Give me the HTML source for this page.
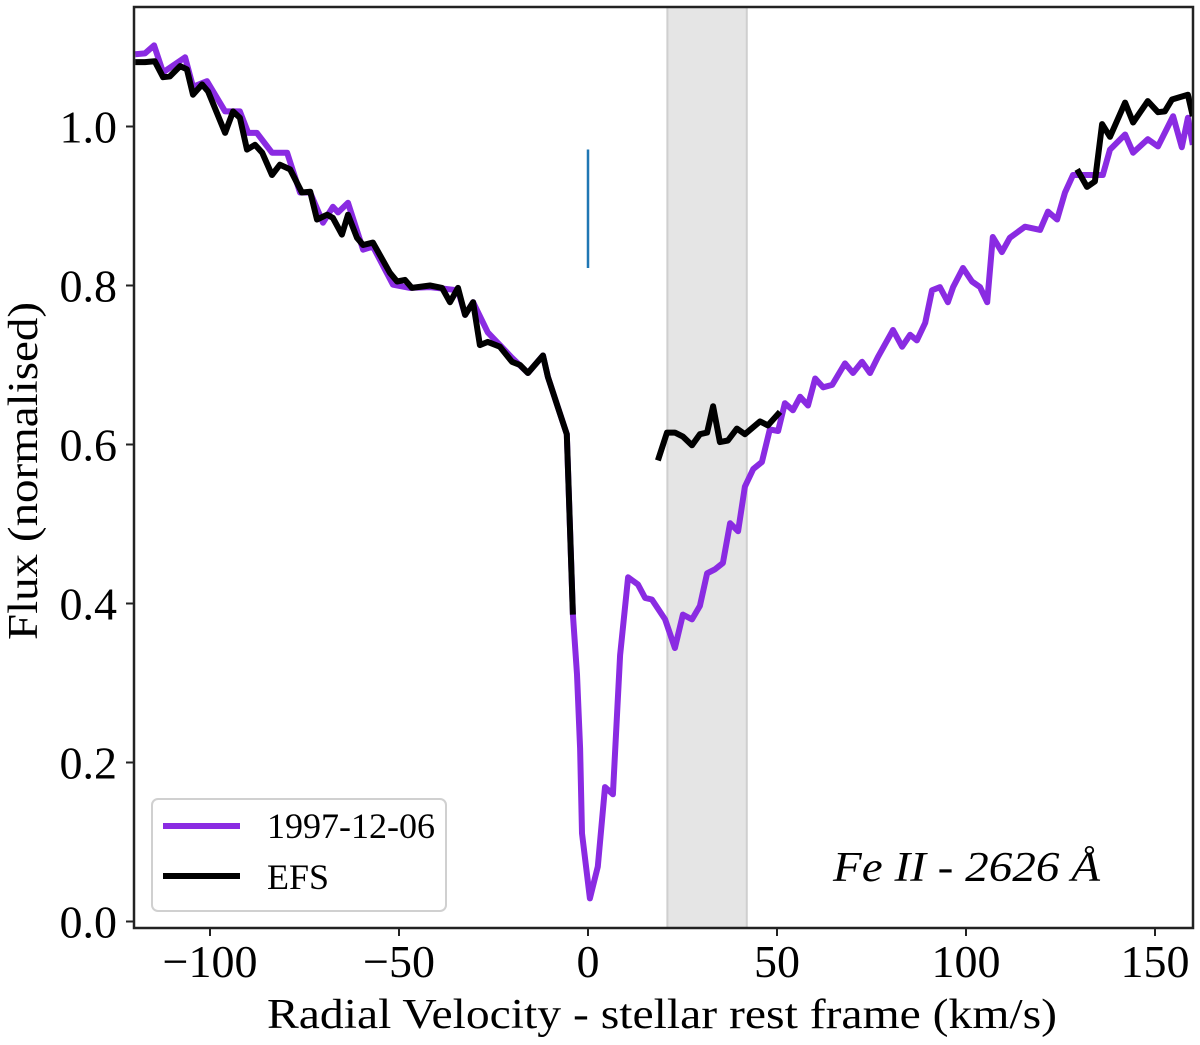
<!DOCTYPE html>
<html><head><meta charset="utf-8">
<style>
html,body{margin:0;padding:0;background:#fff;}
svg{display:block;font-family:"Liberation Serif","DejaVu Serif",serif;}
</style></head>
<body>
<svg id="chart" width="1200" height="1045" viewBox="0 0 1200 1045" xmlns="http://www.w3.org/2000/svg">
<defs><clipPath id="plotclip"><rect x="134" y="7" width="1059" height="921"/></clipPath></defs>
<g id="plot" clip-path="url(#plotclip)"></g>
<g id="axes"></g>
</svg>
<script>
// ---- data ----
const purpleX = [-119.8,-117.2,-114.8,-112.4,-106.6,-104.5,-100.8,-96.0,-92.1,-89.9,-87.6,-83.6,-79.6,-76.2,-73.5,-70.1,-67.5,-66.1,-63.5,-59.5,-56.9,-51.6,-47.1,-41.8,-34.4,-32.5,-30.4,-26.5,-23.3,-20.1,-15.9,-11.9,-10.6,-7.9,-5.6,-4.8,-4.0,-2.9,-2.1,-1.6,0.5,2.6,4.5,6.6,8.5,10.6,13.2,15.1,16.9,20.4,23.0,25.1,27.5,29.6,31.5,33.6,35.7,37.6,39.7,41.5,43.7,46.0,48.1,50.3,52.1,54.2,56.1,58.2,60.1,62.2,64.6,68.0,70.1,72.5,74.6,76.7,80.7,83.1,85.2,87.0,89.2,91.0,93.1,95.2,96.6,99.2,101.6,103.7,105.6,107.1,109.5,111.6,115.6,119.6,121.7,124.1,126.2,128.3,136.2,138.1,142.1,144.2,148.1,150.8,154.8,157.1,158.7,160.0];
const purpleY = [1.091,1.092,1.102,1.068,1.087,1.050,1.057,1.019,1.019,0.992,0.992,0.967,0.967,0.917,0.917,0.879,0.899,0.892,0.904,0.845,0.849,0.801,0.797,0.798,0.794,0.763,0.779,0.741,0.725,0.709,0.690,0.712,0.685,0.646,0.613,0.498,0.386,0.311,0.218,0.111,0.029,0.069,0.169,0.160,0.335,0.433,0.424,0.407,0.405,0.380,0.344,0.386,0.380,0.397,0.438,0.443,0.451,0.501,0.491,0.547,0.569,0.578,0.619,0.617,0.652,0.643,0.660,0.649,0.683,0.672,0.675,0.702,0.690,0.704,0.690,0.710,0.744,0.723,0.738,0.731,0.753,0.794,0.798,0.779,0.798,0.822,0.805,0.798,0.779,0.861,0.842,0.860,0.874,0.870,0.893,0.883,0.917,0.939,0.939,0.971,0.990,0.967,0.984,0.975,1.013,0.974,1.011,0.977];
const efsLeftX = [-119.8,-117.2,-114.6,-112.4,-110.6,-107.9,-106.1,-104.5,-102.1,-100.5,-96.0,-93.9,-92.1,-90.2,-88.1,-86.2,-83.6,-81.5,-78.8,-75.7,-73.5,-71.7,-69.0,-67.5,-65.1,-63.5,-61.1,-59.5,-56.9,-52.4,-50.5,-48.4,-46.6,-41.8,-38.6,-36.5,-34.4,-32.5,-30.4,-28.6,-26.5,-23.3,-20.1,-18.0,-15.9,-11.9,-10.6,-7.9,-5.6,-4.8,-4.0];
const efsLeftY = [1.081,1.081,1.082,1.062,1.063,1.076,1.072,1.040,1.053,1.044,0.992,1.019,1.011,0.971,0.977,0.967,0.939,0.952,0.946,0.917,0.918,0.883,0.889,0.885,0.864,0.889,0.860,0.851,0.854,0.816,0.805,0.807,0.797,0.800,0.797,0.779,0.797,0.763,0.779,0.725,0.729,0.723,0.704,0.700,0.690,0.712,0.685,0.646,0.613,0.498,0.386];
const efsMidX = [18.5,20.9,23.0,25.1,27.5,29.6,31.5,33.1,34.9,37.0,39.4,41.5,45.5,47.6,50.8];
const efsMidY = [0.580,0.615,0.615,0.610,0.599,0.613,0.615,0.648,0.603,0.605,0.620,0.613,0.629,0.624,0.641];
const efsRightX = [129.4,132.0,134.1,136.0,138.1,142.1,144.2,148.1,150.8,152.6,154.5,156.6,158.7,160.0];
const efsRightY = [0.946,0.924,0.931,1.003,0.987,1.030,1.005,1.032,1.018,1.019,1.034,1.037,1.040,1.013];
const bandRange = [21, 42];
const markerX = [0];
const markerY = [0.822, 0.971];
const xTicks = [-100, -50, 0, 50, 100, 150];
const xTickLabels = ["\u2212100", "\u221250", "0", "50", "100", "150"];
const yTicks = [0.0, 0.2, 0.4, 0.6, 0.8, 1.0];
const yTickLabels = ["0.0", "0.2", "0.4", "0.6", "0.8", "1.0"];

// ---- scales ----
const X0 = 588, KX = 3.78, Y0 = 921.5, KY = 795;
function sx(v){ return X0 + v*KX; }
function sy(v){ return Y0 - v*KY; }
const NS = "http://www.w3.org/2000/svg";
const plot = document.getElementById('plot');
const axes = document.getElementById('axes');
function mk(tag, attrs, parent){ const e=document.createElementNS(NS,tag); for(const k in attrs) e.setAttribute(k,attrs[k]); parent.appendChild(e); return e; }

// band
const band = mk('rect', {x:sx(bandRange[0]), y:0, width:sx(bandRange[1])-sx(bandRange[0]), height:1045, fill:'#e5e5e5', stroke:'#cfcfcf', 'stroke-width':2}, plot);



// marker
const mark = mk('line', {x1:sx(markerX[0]), x2:sx(markerX[0]), y1:sy(markerY[0]), y2:sy(markerY[1]), stroke:'#1f77b4', 'stroke-width':2.5}, plot);



function line(xs, ys, color){
  let d=''; for(let i=0;i<xs.length;i++) d += (i?'L':'M') + sx(xs[i]).toFixed(1) + ' ' + sy(ys[i]).toFixed(1);
  return mk('path', {d:d, fill:'none', stroke:color, 'stroke-width':6, 'stroke-linejoin':'round', 'stroke-linecap':'butt'}, plot);
}
const p1 = line(purpleX, purpleY, '#8a2be2');


const b1 = line(efsLeftX, efsLeftY, '#000');


const b2 = line(efsMidX, efsMidY, '#000');


const b3 = line(efsRightX, efsRightY, '#000');



// frame
const frame = mk('rect', {x:134, y:7, width:1059, height:921, fill:'none', stroke:'#222', 'stroke-width':2.5}, axes);



xTicks.forEach((t,i)=>{
  const tk = mk('line', {x1:sx(t), x2:sx(t), y1:928, y2:936, stroke:'#222', 'stroke-width':2}, axes);
  
  
  const tx = mk('text', {x:sx(t), y:977, 'font-size':46, 'text-anchor':'middle', fill:'#000'}, axes);
  tx.textContent = xTickLabels[i];
  
  
});
yTicks.forEach((t,i)=>{
  const tk = mk('line', {x1:126, x2:134, y1:sy(t), y2:sy(t), stroke:'#222', 'stroke-width':2}, axes);
  
  
  const tx = mk('text', {x:117, y:sy(t)+16, 'font-size':46, 'text-anchor':'end', fill:'#000'}, axes);
  tx.textContent = yTickLabels[i];
  
  
});
</script>
<script>
(function(){
  const NS="http://www.w3.org/2000/svg";
  const svg=document.getElementById('chart');
  function mk(tag, attrs){ const e=document.createElementNS(NS,tag); for(const k in attrs) e.setAttribute(k,attrs[k]); svg.appendChild(e); return e; }
  const xl = mk('text',{x:662, y:1028, 'font-size':42, 'text-anchor':'middle', textLength:790, lengthAdjust:'spacingAndGlyphs'});
  xl.textContent='Radial Velocity - stellar rest frame (km/s)';
  
  
  const yl = mk('text',{x:0, y:0, 'font-size':42, 'text-anchor':'middle', transform:'translate(37,471) rotate(-90)', textLength:338, lengthAdjust:'spacingAndGlyphs'});
  yl.textContent='Flux (normalised)';
  
  
  const ann = mk('text',{x:833, y:881, 'font-size':42, 'font-style':'italic', textLength:267, lengthAdjust:'spacingAndGlyphs'});
  ann.textContent='Fe II - 2626 \u00C5';
  
  
  const lg = mk('rect',{x:152, y:799, width:294, height:112, rx:6, fill:'#fff', 'fill-opacity':0.85, stroke:'#d0d0d0', 'stroke-width':2});
  
  
  const l1 = mk('line',{x1:163, x2:240, y1:826, y2:826, stroke:'#8a2be2', 'stroke-width':6});
  
  
  const t1 = mk('text',{x:267, y:838, 'font-size':36});
  t1.textContent='1997-12-06';
  
  
  const l2 = mk('line',{x1:163, x2:240, y1:876, y2:876, stroke:'#000', 'stroke-width':6});
  
  
  const t2 = mk('text',{x:267, y:889, 'font-size':36});
  t2.textContent='EFS';
  
  
})();
</script>
</body></html>
